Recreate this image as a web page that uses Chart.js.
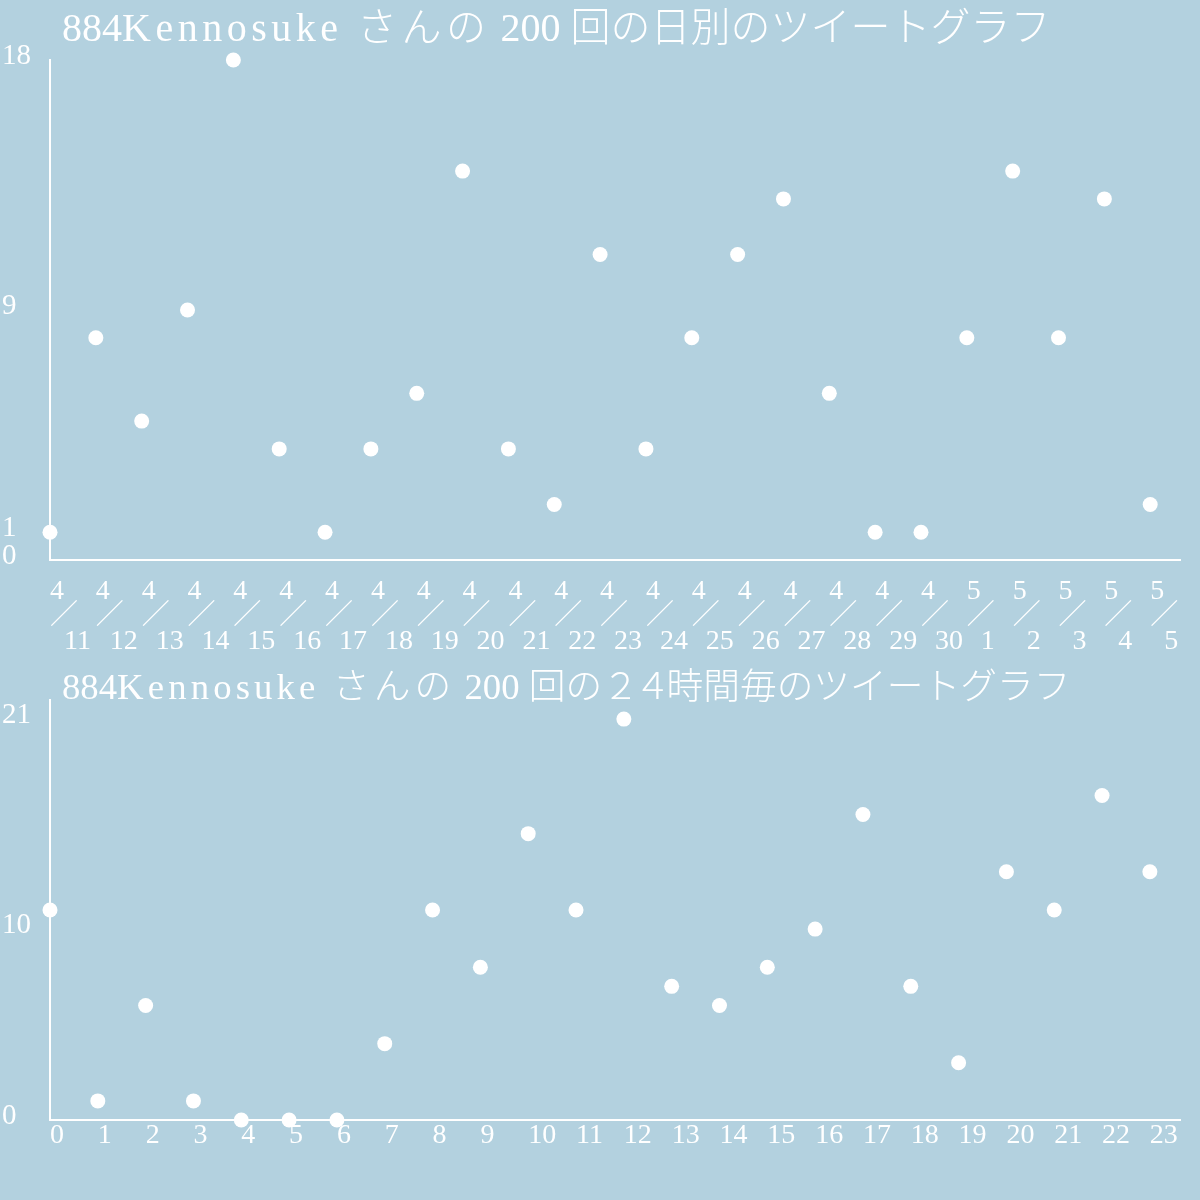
<!DOCTYPE html>
<html>
<head>
<meta charset="utf-8">
<script src="https://cdn.jsdelivr.net/npm/chart.js@4.4.0/dist/chart.umd.min.js"></script>
<style>
  html, body { margin: 0; padding: 0; background: #b3d1df; }
  #page { position: relative; width: 1200px; height: 1200px; overflow: hidden; background: #b3d1df; }
  canvas { position: absolute; left: 0; }
  .title {
    position: absolute; left: 62px; color: #fff; white-space: nowrap;
    font-family: "Liberation Serif", "Noto Sans CJK JP", serif;
    font-size: 40px; line-height: 44px; font-weight: 300;
  }
  .title .wide { letter-spacing: 4.5px; }
  .title .tight { letter-spacing: -5px; }
  /* the longer title is squeezed into the same width as the first one */
  .title.fit { transform: scale(0.918); transform-origin: 0 38px; }
</style>
</head>
<body>
<div id="page">
  <canvas id="dayChart" width="1200" height="690" style="top:0"></canvas>
  <canvas id="hourChart" width="1200" height="560" style="top:640px"></canvas>
  <div class="title" style="top:6px">884<span class="wide">Kennosuke さんの</span> 200 回の日別のツイートグラフ</div>
  <div class="title fit" style="top:664px">884<span class="wide">Kennosuke さんの</span> 200 回の<span class="tight">２４</span>時間毎のツイートグラフ</div>
</div>
<script>
// tweets per day, 4/11 - 5/5
const dayMonths = [4, 4, 4, 4, 4, 4, 4, 4, 4, 4, 4, 4, 4, 4, 4, 4, 4, 4, 4, 4, 5, 5, 5, 5, 5];
const dayDates  = [11, 12, 13, 14, 15, 16, 17, 18, 19, 20, 21, 22, 23, 24, 25, 26, 27, 28, 29, 30, 1, 2, 3, 4, 5];
const dayCounts = [1, 8, 5, 9, 18, 4, 1, 4, 6, 14, 4, 2, 11, 4, 8, 11, 13, 6, 1, 1, 8, 14, 8, 13, 2];
const dayTicks  = [0, 1, 9, 18];

// tweets per hour of day
const hours      = [0, 1, 2, 3, 4, 5, 6, 7, 8, 9, 10, 11, 12, 13, 14, 15, 16, 17, 18, 19, 20, 21, 22, 23];
const hourCounts = [11, 1, 6, 1, 0, 0, 0, 4, 11, 8, 15, 11, 21, 7, 6, 8, 10, 16, 7, 3, 13, 11, 17, 13];
const hourTicks  = [0, 10, 21];

const FONT = '"Liberation Serif", "Noto Sans CJK JP", serif';
const WHITE = '#ffffff';

function makeChart(id, counts, labels, opts) {
  const points = counts.map((v, i) => ({ x: i, y: v }));
  return new Chart(document.getElementById(id), {
    type: 'scatter',
    data: {
      datasets: [{
        data: points,
        pointRadius: 7.5,
        pointBackgroundColor: WHITE,
        pointBorderWidth: 0,
        showLine: false,
        clip: false
      }]
    },
    options: {
      responsive: false,
      devicePixelRatio: 1,
      animation: false,
      events: [],
      layout: { padding: { top: 60, right: 20, left: 2, bottom: 0 } },
      plugins: { legend: { display: false }, tooltip: { enabled: false } },
      scales: {
        x: {
          type: 'linear',
          min: 0,
          max: opts.xMax,
          grid: { display: false, drawTicks: false },
          border: { color: WHITE, width: 2 },
          afterBuildTicks: s => { s.ticks = labels.map((_, i) => ({ value: i })); },
          afterFit: s => { s.height = opts.xHeight; },
          ticks: {
            color: WHITE,
            font: { family: FONT, size: 28, lineHeight: 25 / 28 },
            padding: opts.xPad,
            align: 'start',
            autoSkip: false,
            maxRotation: 0,
            callback: v => labels[v]
          }
        },
        y: {
          min: 0,
          max: opts.yMax,
          grid: { display: false, drawTicks: false },
          border: { color: WHITE, width: 2 },
          afterBuildTicks: s => { s.ticks = opts.yTicks.map(v => ({ value: v })); },
          afterFit: s => { s.width = 48; },
          ticks: {
            color: WHITE,
            font: { family: FONT, size: 29 },
            crossAlign: 'far',
            labelOffset: -4,
            padding: 0,
            callback: v => String(v)
          }
        }
      }
    }
  });
}

const dayLabels = dayMonths.map((m, i) => [String(m), '／', '  ' + dayDates[i]]);
makeChart('dayChart', dayCounts, dayLabels, { xMax: 24.65, yMax: 18, yTicks: dayTicks, xPad: 19, xHeight: 130 });

const hourLabels = hours.map(h => String(h));
makeChart('hourChart', hourCounts, hourLabels, { xMax: 23.63, yMax: 22, yTicks: hourTicks, xPad: 3, xHeight: 80 });
</script>
</body>
</html>
